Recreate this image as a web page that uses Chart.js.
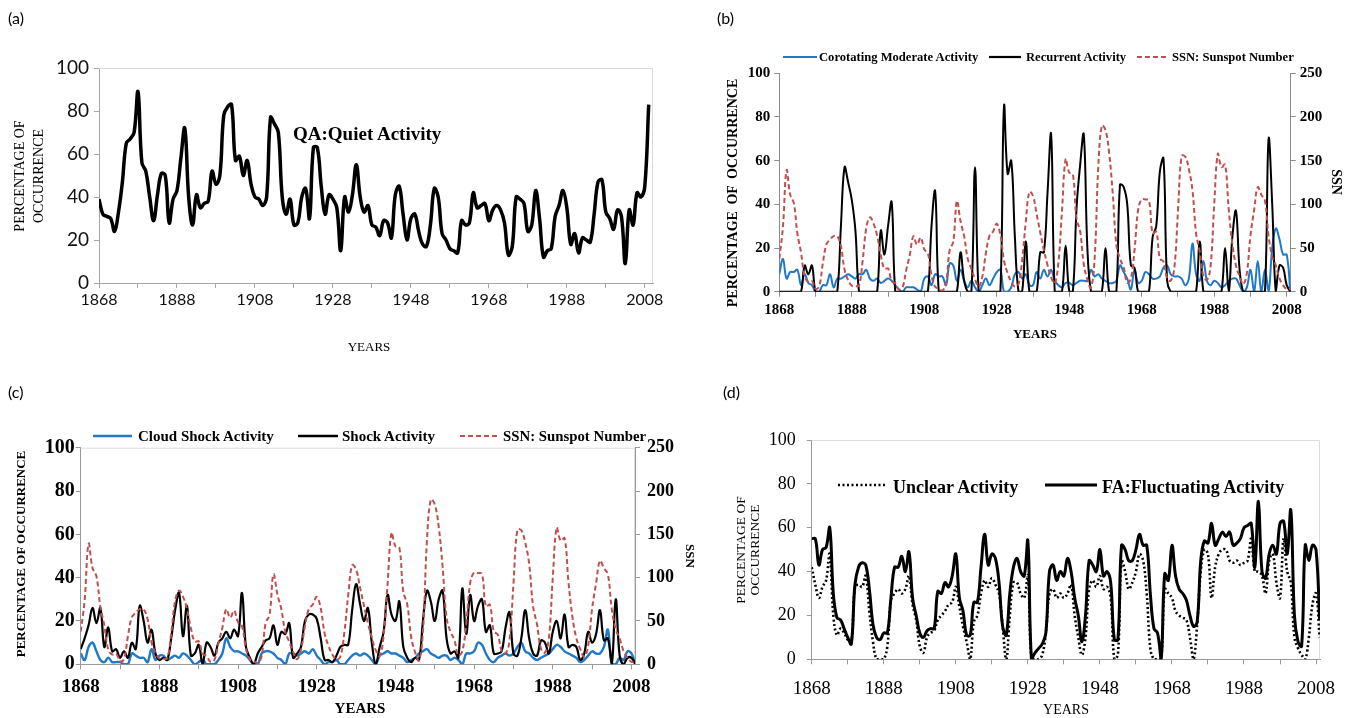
<!DOCTYPE html>
<html>
<head>
<meta charset="utf-8">
<title>Percentage of occurrence of geomagnetic activity classes, 1868-2008</title>
<script src="https://cdn.jsdelivr.net/npm/chart.js@4.4.1/dist/chart.umd.min.js"></script>
<style>
  html, body { margin: 0; padding: 0; background: #fff; overflow: hidden; }
  #page { position: relative; width: 1349px; height: 718px; }
  #page canvas { position: absolute; left: 0; top: 0; }
  #keys { position: absolute; left: 0; top: 0; }
  .txt { position: absolute; white-space: nowrap; line-height: 1; color: #000; }
</style>
</head>
<body>
<div id="page">
  <canvas id="chartA" width="1349" height="718"></canvas>
  <canvas id="chartB" width="1349" height="718"></canvas>
  <canvas id="chartC" width="1349" height="718"></canvas>
  <canvas id="chartD" width="1349" height="718"></canvas>
  <svg id="keys" width="1349" height="718"></svg>
</div>
<script>
// ---- data (one value per year, 1868..2009) ----
var years = [];
for (var yr = 1868; yr <= 2009; yr++) years.push(yr);

var yearTicks = [1868, 1878, 1888, 1898, 1908, 1918, 1928, 1938, 1948, 1958, 1968, 1978, 1988, 1998, 2008];
var yearLabels = [1868, 1888, 1908, 1928, 1948, 1968, 1988, 2008];
var pctTicks = [0, 20, 40, 60, 80, 100];
var ssnTicks = [0, 50, 100, 150, 200, 250];

// (a) QA: quiet activity, %
var quiet = [
  39, 32, 31, 30, 24, 33, 47, 65, 67, 70,
  89, 56, 52, 40, 29, 41, 51, 50, 28, 39,
  43, 58, 72, 40, 27, 41, 35, 37, 38, 52,
  46, 50, 78, 82, 83, 57, 59, 50, 57, 46,
  40, 39, 36, 40, 77, 74, 70, 40, 32, 39,
  27, 28, 40, 44, 30, 63, 63, 45, 32, 41,
  39, 35, 15, 40, 33, 41, 55, 40, 33, 36,
  27, 26, 22, 29, 28, 21, 41, 45, 32, 20,
  30, 32, 24, 18, 17, 27, 44, 40, 23, 20,
  16, 15, 14, 29, 27, 28, 42, 35, 36, 37,
  29, 34, 36, 34, 28, 13, 17, 40, 39, 37,
  24, 27, 43, 30, 12, 15, 16, 31, 36, 43,
  35, 18, 23, 14, 21, 20, 19, 32, 47, 48,
  33, 30, 25, 34, 31, 9, 34, 27, 42, 40,
  45, 83
];

// (b) corotating moderate activity, %
var corotating = [
  8, 15, 6, 9, 9, 10, 3, 8, 4, 3,
  0, 0, 3, 3, 8, 2, 6, 6, 7, 8,
  7, 6, 8, 8, 10, 6, 5, 6, 4, 5,
  6, 5, 3, 1, 0, 2, 2, 2, 1, 0,
  6, 7, 3, 8, 7, 7, 3, 13, 12, 5,
  10, 5, 2, 5, 2, 0, 3, 6, 3, 6,
  9, 10, 0, 0, 2, 8, 9, 6, 8, 3,
  3, 9, 6, 10, 7, 10, 5, 3, 2, 4,
  4, 3, 4, 5, 5, 5, 10, 7, 8, 6,
  5, 4, 4, 5, 12, 9, 6, 1, 10, 4,
  5, 9, 8, 6, 6, 7, 11, 12, 8, 7,
  7, 6, 3, 6, 22, 8, 5, 14, 5, 3,
  5, 4, 2, 3, 5, 6, 6, 3, 0, 2,
  10, 0, 14, 0, 10, 0, 20, 29, 24, 17,
  17, 0
];

// (b) recurrent activity, %
var recurrent = [
  0, 0, 0, 0, 0, 0, 0, 12, 8, 12,
  0, 0, 0, 0, 0, 0, 0, 30, 57, 50,
  42, 28, 0, 0, 0, 0, 0, 0, 28, 17,
  30, 41, 0, 0, 0, 0, 0, 0, 0, 0,
  0, 0, 30, 46, 0, 0, 0, 0, 0, 0,
  18, 5, 0, 0, 57, 0, 0, 0, 0, 0,
  0, 0, 85, 54, 60, 25, 0, 0, 23, 0,
  0, 0, 18, 18, 45, 72, 0, 0, 0, 21,
  0, 0, 38, 58, 72, 20, 0, 0, 0, 0,
  20, 0, 0, 0, 49, 48, 40, 12, 11, 0,
  0, 0, 0, 25, 30, 55, 61, 5, 0, 0,
  0, 0, 0, 0, 0, 0, 23, 0, 0, 0,
  0, 0, 0, 20, 0, 25, 37, 10, 0, 0,
  0, 0, 0, 0, 0, 70, 40, 0, 12, 11,
  3, 0
];

// sunspot number (yearly means), shared by (b) and (c)
var ssn = [
  37.6, 74.0, 139.0, 111.2, 101.6, 66.2, 44.7, 17.0, 11.3, 12.4,
  3.4, 6.0, 32.3, 54.3, 59.7, 63.7, 63.5, 52.2, 25.4, 13.1,
  6.8, 6.3, 7.1, 35.6, 73.0, 85.1, 78.0, 64.0, 41.8, 26.2,
  26.7, 12.1, 9.5, 2.7, 5.0, 24.4, 42.0, 63.5, 53.8, 62.0,
  48.5, 43.9, 18.6, 5.7, 3.6, 1.4, 9.6, 47.4, 57.1, 103.9,
  80.6, 63.6, 37.6, 26.1, 14.2, 5.8, 16.7, 44.3, 63.9, 69.0,
  77.8, 64.9, 35.7, 21.2, 11.1, 5.7, 8.7, 36.1, 79.7, 114.4,
  109.6, 88.8, 67.8, 47.5, 30.6, 16.3, 9.6, 33.2, 92.6, 151.6,
  136.3, 134.7, 83.9, 69.4, 31.5, 13.9, 4.4, 38.0, 141.7, 190.2,
  184.8, 159.0, 112.3, 53.9, 37.6, 27.9, 10.2, 15.1, 47.0, 93.8,
  105.9, 105.5, 104.5, 66.6, 68.9, 38.0, 34.5, 15.5, 12.6, 27.5,
  92.5, 155.4, 154.6, 140.4, 115.9, 66.6, 45.9, 17.9, 13.4, 29.4,
  100.2, 157.6, 142.6, 145.7, 94.3, 54.6, 29.9, 17.5, 8.6, 21.5,
  64.3, 93.3, 119.6, 111.0, 104.0, 63.7, 40.4, 29.8, 15.2, 7.5,
  2.9, 3.1
];

// (c) cloud shock activity, %
var cloudShock = [
  5, 2, 8, 10, 6, 2, 1, 3, 1, 1,
  1, 0, 0, 5, 4, 3, 3, 1, 7, 2,
  4, 4, 2, 3, 4, 3, 5, 4, 2, 0,
  1, 2, 0, 0, 0, 2, 5, 12, 8, 6,
  6, 5, 4, 2, 0, 0, 5, 6, 6, 5,
  3, 2, 0, 5, 5, 4, 5, 6, 5, 7,
  4, 2, 0, 1, 1, 2, 0, 0, 2, 4,
  5, 4, 5, 4, 2, 0, 4, 5, 6, 5,
  5, 4, 3, 1, 2, 3, 5, 6, 7, 5,
  4, 3, 4, 4, 2, 3, 2, 0, 5, 5,
  6, 10, 9, 5, 2, 1, 3, 4, 5, 4,
  5, 8, 10, 6, 5, 3, 2, 3, 4, 5,
  7, 9, 8, 6, 5, 4, 3, 1, 2, 4,
  6, 5, 5, 8, 16, 0, 0, 3, 2, 6,
  5, 0
];

// (c) shock activity, %
var shock = [
  7, 12, 18, 26, 19, 26, 8, 17, 6, 7,
  3, 6, 3, 10, 7, 27, 20, 10, 16, 5,
  2, 3, 2, 12, 25, 33, 13, 27, 4, 5,
  9, 0, 10, 8, 4, 10, 12, 15, 12, 16,
  13, 33, 8, 3, 0, 5, 8, 11, 12, 18,
  9, 15, 14, 19, 3, 5, 8, 20, 23, 23,
  21, 12, 2, 2, 1, 4, 8, 9, 9, 25,
  37, 28, 20, 26, 10, 0, 8, 15, 32, 23,
  20, 29, 8, 3, 1, 3, 2, 20, 34, 29,
  20, 30, 34, 12, 5, 6, 3, 35, 14, 32,
  20, 27, 30, 15, 18, 5, 5, 6, 17, 24,
  5, 4, 12, 25, 12, 5, 4, 11, 10, 5,
  15, 20, 12, 23, 8, 9, 8, 2, 5, 15,
  10, 14, 25, 11, 12, 0, 30, 4, 0, 3,
  3, 0
];

// (d) unclear activity, %
var unclear = [
  42, 34, 28, 33, 36, 48, 20, 11, 14, 12,
  9, 8, 33, 34, 33, 38, 22, 8, 0, 0,
  0, 6, 27, 30, 32, 30, 32, 38, 25, 18,
  6, 3, 10, 12, 13, 18, 20, 22, 25, 26,
  33, 24, 15, 8, 0, 17, 20, 30, 36, 33,
  37, 34, 30, 15, 0, 20, 35, 35, 30, 28,
  38, 0, 0, 0, 2, 12, 30, 32, 28, 30,
  28, 30, 34, 20, 10, 2, 10, 32, 36, 33,
  38, 32, 33, 28, 0, 2, 45, 40, 32, 35,
  40, 48, 45, 30, 5, 0, 0, 0, 32, 30,
  28, 22, 20, 19, 18, 10, 0, 16, 40, 50,
  48, 28, 42, 48, 50, 50, 45, 44, 45, 43,
  44, 45, 55, 40, 40, 38, 30, 45, 48, 35,
  28, 55, 40, 35, 10, 5, 2, 0, 10, 25,
  30, 10
];

// (d) FA: fluctuating activity, %
var fluctuating = [
  55, 55, 43, 50, 51, 60, 30, 19, 18, 14,
  10, 7, 34, 42, 44, 43, 32, 16, 10, 9,
  12, 12, 28, 42, 42, 47, 40, 49, 28, 20,
  12, 10, 13, 14, 14, 31, 30, 35, 33, 38,
  48, 28, 22, 11, 11, 26, 26, 42, 57, 43,
  48, 46, 35, 15, 11, 30, 42, 46, 40, 38,
  54, 0, 3, 5, 7, 12, 40, 43, 36, 40,
  38, 46, 40, 28, 20, 8, 20, 45, 43, 40,
  50, 38, 40, 35, 9, 9, 52, 50, 45, 45,
  50, 57, 52, 52, 30, 14, 12, 0, 39, 36,
  52, 38, 32, 30, 27, 20, 15, 17, 45, 54,
  53, 62, 52, 55, 58, 56, 58, 52, 53, 55,
  60, 61, 62, 42, 72, 40, 37, 48, 52, 48,
  62, 63, 48, 68, 20, 8, 6, 52, 45, 52,
  50, 18
];

// ---- styling helpers ----
var SERIF = '"Liberation Serif", "Times New Roman", serif';
var SANS = 'Lato, "Liberation Sans", Arial, sans-serif';
var BLUE = '#1f78c8';
var RED = '#c0504d';
var W = 1349, H = 718;
var page = document.getElementById('page');

function pts(vals) {
  return vals.map(function (v, i) { return { x: years[i], y: v }; });
}

// light frame on top and right edge of the plot area
var frame = {
  id: 'frame',
  beforeDatasetsDraw: function (chart, args, opts) {
    if (!opts.color) return;
    var a = chart.chartArea, c = chart.ctx;
    c.save();
    c.strokeStyle = opts.color;
    c.lineWidth = 1;
    c.beginPath();
    c.moveTo(a.left, a.top + 0.5);
    c.lineTo(a.right - 0.5, a.top + 0.5);
    c.lineTo(a.right - 0.5, a.bottom);
    c.stroke();
    c.restore();
  }
};

function panelOptions(p) {
  var scales = {
    x: {
      type: 'linear', min: 1868, max: p.xMax,
      afterBuildTicks: function (s) { s.ticks = yearTicks.map(function (v) { return { value: v }; }); },
      afterFit: function (s) { s.height = H - p.bottom; },
      ticks: {
        autoSkip: false, maxRotation: 0, padding: p.xPad, color: p.textColor, font: p.xFont,
        callback: function (v) { return yearLabels.indexOf(v) >= 0 ? String(v) : ''; }
      },
      grid: { drawOnChartArea: false, tickLength: 5, tickColor: p.axisColor },
      border: { color: p.axisColor }
    },
    y: {
      type: 'linear', position: 'left', min: 0, max: 100,
      afterBuildTicks: function (s) { s.ticks = pctTicks.map(function (v) { return { value: v }; }); },
      afterFit: function (s) { s.width = p.left; },
      ticks: { padding: p.yPad, color: p.textColor, font: p.yFont },
      grid: { drawOnChartArea: false, tickLength: 5, tickColor: p.axisColor },
      border: { color: p.axisColor }
    }
  };
  if (p.ssnAxis) {
    scales.ssn = {
      type: 'linear', position: 'right', min: 0, max: 250,
      afterBuildTicks: function (s) { s.ticks = ssnTicks.map(function (v) { return { value: v }; }); },
      afterFit: function (s) { s.width = W - p.right; },
      ticks: { padding: p.rPad, color: p.textColor, font: p.rFont },
      grid: { drawOnChartArea: false, tickLength: 5, tickColor: p.axisColor },
      border: { color: p.axisColor }
    };
  }
  return {
    responsive: false,
    animation: false,
    devicePixelRatio: 1,
    layout: { padding: { left: 0, top: p.top, right: p.ssnAxis ? 0 : W - p.right, bottom: 0 } },
    plugins: { legend: { display: false }, tooltip: { enabled: false }, frame: { color: p.frame } },
    scales: scales
  };
}

function line(label, vals, color, width, extra) {
  var ds = { label: label, data: pts(vals), borderColor: color, borderWidth: width,
             pointRadius: 0, tension: 0.4, fill: false };
  for (var k in extra) ds[k] = extra[k];
  return ds;
}

// ---- (a) ----
new Chart(document.getElementById('chartA'), {
  type: 'line',
  data: { datasets: [line('QA:Quiet Activity', quiet, '#000', 3.5, {})] },
  options: panelOptions({
    left: 99, top: 68, right: 653, bottom: 283, xMax: 2010.1,
    frame: '#d9d9d9', axisColor: '#a6a6a6', textColor: '#111',
    xFont: { family: SANS, size: 16 }, xPad: 2,
    yFont: { family: SANS, size: 19 }, yPad: 5
  }),
  plugins: [frame]
});

// ---- (b) ----
new Chart(document.getElementById('chartB'), {
  type: 'line',
  data: { datasets: [
    line('SSN: Sunspot Number', ssn, RED, 2, { yAxisID: 'ssn', borderDash: [5, 3], order: 0 }),
    line('Recurrent Activity', recurrent, '#000', 2, { order: 1 }),
    line('Corotating Moderate Activity', corotating, BLUE, 2, { order: 2 })
  ] },
  options: panelOptions({
    left: 779.3, top: 73.3, right: 1290.7, bottom: 291.7, xMax: 2009.1,
    frame: null, axisColor: '#8c8c8c', textColor: '#000', ssnAxis: true,
    xFont: { family: SERIF, size: 15, weight: 'bold' }, xPad: 4,
    yFont: { family: SERIF, size: 15, weight: 'bold' }, yPad: 4,
    rFont: { family: SERIF, size: 15, weight: 'bold' }, rPad: 4
  }),
  plugins: [frame]
});

// ---- (c) ----
new Chart(document.getElementById('chartC'), {
  type: 'line',
  data: { datasets: [
    line('SSN: Sunspot Number', ssn, RED, 2, { yAxisID: 'ssn', borderDash: [5, 3], order: 0 }),
    line('Shock Activity', shock, '#000', 2.2, { order: 1 }),
    line('Cloud Shock Activity', cloudShock, BLUE, 2.4, { order: 2 })
  ] },
  options: panelOptions({
    left: 80.7, top: 447.7, right: 635, bottom: 664.3, xMax: 2008.9,
    frame: '#dcdcdc', axisColor: '#999', textColor: '#000', ssnAxis: true,
    xFont: { family: SERIF, size: 19, weight: 'bold' }, xPad: 6,
    yFont: { family: SERIF, size: 20, weight: 'bold' }, yPad: 1,
    rFont: { family: SERIF, size: 18, weight: 'bold' }, rPad: 7
  }),
  plugins: [frame]
});

// ---- (d) ----
new Chart(document.getElementById('chartD'), {
  type: 'line',
  data: { datasets: [
    line('FA:Fluctuating Activity', fluctuating, '#000', 3, { order: 0 }),
    line('Unclear Activity', unclear, '#000', 2.6, { borderDash: [2, 2.5], order: 1 })
  ] },
  options: panelOptions({
    left: 811.7, top: 440, right: 1320, bottom: 659.3, xMax: 2009.1,
    frame: '#dcdcdc', axisColor: '#999', textColor: '#000',
    xFont: { family: SERIF, size: 19 }, xPad: 13,
    yFont: { family: SERIF, size: 18 }, yPad: 11
  }),
  plugins: [frame]
});

// ---- text and legend keys ----
function addText(str, x, y, css, anchor, rot) {
  var d = document.createElement('div');
  d.className = 'txt';
  d.textContent = str;
  d.style.cssText += css;
  d.style.left = x + 'px';
  d.style.top = y + 'px';
  var tx = anchor === 'left' ? '0' : '-50%';
  d.style.transform = 'translate(' + tx + ',-50%)' + (rot ? ' rotate(' + rot + 'deg)' : '');
  page.appendChild(d);
}

var svg = document.getElementById('keys');
function keyLine(x1, x2, y, color, width, dash) {
  var l = document.createElementNS('http://www.w3.org/2000/svg', 'line');
  l.setAttribute('x1', x1); l.setAttribute('x2', x2);
  l.setAttribute('y1', y); l.setAttribute('y2', y);
  l.setAttribute('stroke', color);
  l.setAttribute('stroke-width', width);
  if (dash) l.setAttribute('stroke-dasharray', dash);
  svg.appendChild(l);
}

var sansCss = 'font-family:' + SANS + ';';
var serifCss = 'font-family:' + SERIF + ';';
var serifBold = serifCss + 'font-weight:bold;';

// panel letters
addText('(a)', 8, 18, sansCss + 'font-size:16px;', 'left');
addText('(b)', 717, 18, sansCss + 'font-size:16px;', 'left');
addText('(c)', 8, 392, sansCss + 'font-size:16px;', 'left');
addText('(d)', 723, 392, sansCss + 'font-size:16px;', 'left');

// (a)
addText('PERCENTAGE OF', 20, 176, serifCss + 'font-size:14px;', 'center', -90);
addText('OCCURRENCE', 39, 176, serifCss + 'font-size:14px;', 'center', -90);
addText('YEARS', 369, 346, serifCss + 'font-size:13px;', 'center');
addText('QA:Quiet Activity', 293, 133, serifBold + 'font-size:19px;', 'left');

// (b)
addText('PERCENTAGE OF OCCURRENCE', 733, 193, serifBold + 'font-size:14px;word-spacing:3px;', 'center', -90);
addText('SSN', 1336, 182, serifBold + 'font-size:14px;', 'center', 90);
addText('YEARS', 1035, 333, serifBold + 'font-size:13px;', 'center');
keyLine(783, 817, 57, BLUE, 2.2);
addText('Corotating Moderate Activity', 819, 57, serifBold + 'font-size:12.6px;', 'left');
keyLine(989, 1021, 57, '#000', 2.2);
addText('Recurrent Activity', 1026, 57, serifBold + 'font-size:12.6px;', 'left');
keyLine(1137, 1168, 57, RED, 2, '5 3');
addText('SSN: Sunspot Number', 1172, 57, serifBold + 'font-size:12.6px;', 'left');

// (c)
addText('PERCENTAGE OF OCCURRENCE', 20, 554, serifBold + 'font-size:13px;', 'center', -90);
addText('SSN', 690, 556, serifBold + 'font-size:13px;', 'center', 90);
addText('YEARS', 360, 708, serifBold + 'font-size:15px;', 'center');
keyLine(93, 132, 436, BLUE, 2.4);
addText('Cloud Shock Activity', 138, 436, serifBold + 'font-size:15px;', 'left');
keyLine(298, 338, 436, '#000', 2.4);
addText('Shock Activity', 342, 436, serifBold + 'font-size:15px;', 'left');
keyLine(460, 500, 436, RED, 2, '5 3');
addText('SSN: Sunspot Number', 503, 436, serifBold + 'font-size:14.8px;', 'left');

// (d)
addText('PERCENTAGE OF', 741, 550, serifCss + 'font-size:13.5px;', 'center', -90);
addText('OCCURRENCE', 755, 550, serifCss + 'font-size:13.5px;', 'center', -90);
addText('YEARS', 1066, 710, serifCss + 'font-size:14px;', 'center');
keyLine(838, 885, 485, '#000', 2.6, '2 2.5');
addText('Unclear Activity', 893, 487, serifBold + 'font-size:18px;', 'left');
keyLine(1045, 1097, 485, '#000', 3);
addText('FA:Fluctuating Activity', 1102, 487, serifBold + 'font-size:18px;', 'left');
</script>
</body>
</html>
